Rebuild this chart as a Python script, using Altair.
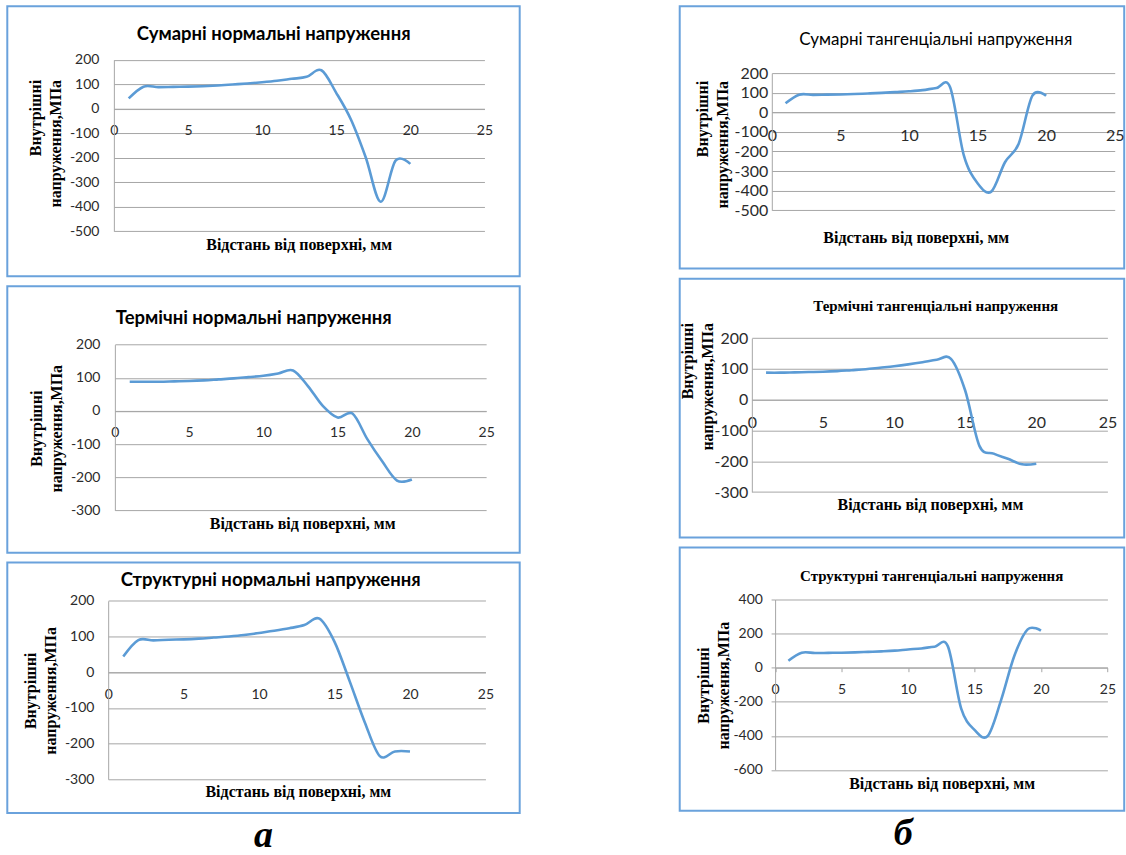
import altair as alt
import pandas as pd

# ---------------- data ----------------
distance_mm = [1, 2, 3, 4, 5, 6, 7, 8, 9, 10, 11, 12, 13, 14, 15, 16, 17, 18, 19, 20]

sum_normal = [42, 90, 88, 89, 90, 92, 95, 99, 103, 108, 114, 122, 130, 157, 65, -45, -200, -380, -212, -225]
therm_normal = [88, 88, 88, 89, 90, 92, 95, 98, 102, 106, 113, 122, 75, 15, -20, -8, -85, -152, -210, -207]
struct_normal = [44, 90, 89, 91, 92, 94, 97, 100, 104, 110, 116, 123, 132, 150, 85, -25, -140, -235, -222, -222]
sum_tang = [46, 90, 89, 90, 91, 93, 96, 99, 103, 107, 113, 124, 128, -220, -362, -405, -255, -160, 85, 84]
therm_tang = [88, 88, 89, 90, 91, 93, 96, 99, 104, 109, 115, 122, 130, 133, 30, -150, -175, -192, -210, -208]
struct_tang = [41, 88, 86, 87, 88, 90, 93, 96, 100, 107, 113, 123, 125, -240, -365, -400, -190, 70, 225, 218]

x_ticks = [0, 5, 10, 15, 20, 25]
y_ticks_a = [-500, -400, -300, -200, -100, 0, 100, 200]
y_ticks_b = [-300, -200, -100, 0, 100, 200]
y_ticks_c = [-600, -400, -200, 0, 200, 400]

titles = [
    "Сумарні нормальні напруження",
    "Термічні нормальні напруження",
    "Структурні нормальні напруження",
    "Сумарні тангенціальні напруження",
    "Термічні тангенціальні напруження",
    "Структурні тангенціальні напруження",
]
x_title = "Відстань від поверхні, мм"
y_title = ["Внутрішні", "напруження,МПа"]

# ---------------- styling / layout ----------------
LINE = "#5B9BD5"
BORDER = "#6AA2DC"
GRID = "#A6A6A6"
LABEL = "#2B2B2B"


def panel(values, title, yticks, W, H, xl, xr, yb, yt,
          t_dx, t_cy, t_font, t_size, t_weight,
          xt_x, xt_y, yt_x, yt_y, yt_align,
          lab_size, ylab_pad, ticks):
    df = pd.DataFrame({"x": distance_mm, "y": values})
    ymin, ymax = yticks[0], yticks[-1]
    zero = yb - (0 - ymin) / (ymax - ymin) * (yb - yt)
    tick_size = 4 if ticks else 0
    return (
        alt.Chart(df)
        .mark_line(interpolate="cardinal", color=LINE, strokeWidth=2.6)
        .encode(
            x=alt.X(
                "x:Q",
                scale=alt.Scale(domain=[0, 25], range=[xl, xr], nice=False, zero=False),
                axis=alt.Axis(
                    values=x_ticks, orient="bottom", offset=zero - H, grid=False,
                    domain=True, domainColor=GRID, domainWidth=1,
                    ticks=ticks, tickSize=tick_size, tickColor=GRID,
                    labelFont="Lato", labelFontSize=lab_size, labelColor=LABEL,
                    labelPadding=15 - tick_size, labelFlush=False, labelOverlap=False,
                    labelExpr="'' + datum.value",
                    title=x_title, titleFont="Liberation Serif", titleFontSize=16,
                    titleFontWeight="bold", titleColor="black",
                    titleX=xt_x, titleY=xt_y - zero,
                    titleAlign="center", titleBaseline="middle",
                ),
            ),
            y=alt.Y(
                "y:Q",
                scale=alt.Scale(domain=[ymin, ymax], range=[yb, yt], nice=False, zero=False),
                axis=alt.Axis(
                    values=yticks, orient="left", offset=-xl, grid=True,
                    gridColor=GRID, gridWidth=1,
                    domain=True, domainColor=GRID, domainWidth=1,
                    ticks=ticks, tickSize=tick_size, tickColor=GRID,
                    labelFont="Lato", labelFontSize=lab_size, labelColor=LABEL,
                    labelPadding=ylab_pad - tick_size, labelOverlap=False,
                    labelExpr="'' + datum.value",
                    title=y_title, titleFont="Liberation Serif", titleFontSize=16,
                    titleFontWeight="bold", titleColor="black", titleAngle=270,
                    titleX=yt_x - xl, titleY=yt_y, titleAlign=yt_align,
                    titleBaseline="bottom", titleLineHeight=20,
                ),
            ),
        )
        .properties(
            width=W,
            height=H,
            title=alt.TitleParams(
                title, anchor="middle", frame="group", font=t_font, fontSize=t_size,
                fontWeight=t_weight, color="black", baseline="middle",
                offset=0, dx=t_dx, dy=t_cy,
            ),
        )
    )


LW, RW = 513, 445
p1 = panel(sum_normal, titles[0], y_ticks_a, LW, 270.5, 106.7, 477.7, 225.3, 53.6,
           10.2, 46.3, "Lato", 18.5, "bold", 291.7, 238.6, 36.7, 73.3, "right", 14, 15, False)
p2 = panel(therm_normal, titles[1], y_ticks_b, LW, 266.8, 107.7, 479.4, 224.3, 58.3,
           -9.8, 50.3, "Lato", 18.5, "bold", 295.2, 237.6, 37.2, 142, "center", 14, 15, False)
p3 = panel(struct_normal, titles[2], y_ticks_b, LW, 250.7, 101, 478.7, 217, 38.3,
           7.2, 36, "Lato", 18.5, "bold", 290.9, 229, 30.9, 128, "center", 14, 14.3, False)
p4 = panel(sum_tang, titles[3], y_ticks_a, RW, 262.6, 92.2, 435.5, 204.3, 67,
           33.8, 51.3, "Lato", 17, "normal", 236.3, 231.6, 30.5, 74.3, "right", 16, 4, False)
p5 = panel(therm_tang, titles[4], y_ticks_b, RW, 259, 72.2, 428.2, 213.4, 59.4,
           33.8, 42.1, "Liberation Serif", 15, "bold", 250.5, 226, 15.8, 43.7, "right", 16, 4, False)
p6 = panel(struct_tang, titles[5], y_ticks_c, RW, 263.5, 95.5, 428.2, 222.7, 52,
           29.7, 43.3, "Liberation Serif", 15, "bold", 262.2, 236, 32, 137.7, "center", 14, 12.7, True)


def letter(t, dx):
    return alt.TitleParams(
        t, orient="bottom", anchor="middle", font="Liberation Serif", fontSize=38,
        fontStyle="italic", fontWeight="bold", color="black",
        baseline="alphabetic", offset=33, dx=dx,
    )


left = alt.vconcat(p1, p2, p3, spacing=9.5, bounds="flush", title=letter("а", 0))
right = alt.vconcat(p4, p5, p6, spacing=10, bounds="flush", title=letter("б", 1.3))

chart = (
    alt.hconcat(left, right, spacing=157.2)
    .properties(padding={"left": 6.3, "top": 4.7, "right": 0, "bottom": 0}, background="white")
    .configure_view(stroke=BORDER, strokeWidth=2, fill="white")
)

chart.save("out.html", embed_options={"renderer": "svg", "actions": False})
